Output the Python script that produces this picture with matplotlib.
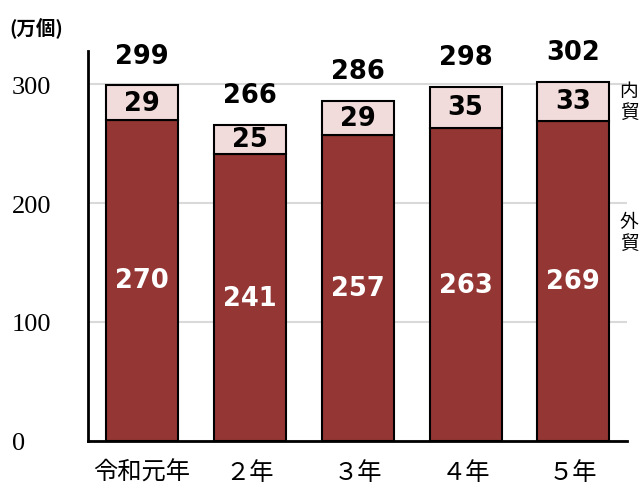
import matplotlib.pyplot as plt

plt.rcParams['font.family'] = ['Noto Sans CJK JP', 'DejaVu Sans']

years = ['令和元年', '２年', '３年', '４年', '５年']
gaibou = [270, 241, 257, 263, 269]   # 外貿
naibou = [29, 25, 29, 35, 33]        # 内貿
totals = [299, 266, 286, 298, 302]
yticks = [0, 100, 200, 300]

dark = '#943634'
light = '#f2dcdb'

fig = plt.figure(figsize=(6.44, 4.85), dpi=100)
ax = fig.add_axes([0.137, 0.089, 0.837, 0.804])

x = range(len(years))
ax.bar(x, gaibou, width=0.667, color=dark, edgecolor='black', linewidth=1.5, zorder=3)
ax.bar(x, naibou, width=0.667, bottom=gaibou, color=light, edgecolor='black', linewidth=1.5, zorder=3)

lab_font = dict(family=['DejaVu Sans'], fontweight='bold', fontsize=18.5)
for i in x:
    ax.text(i, gaibou[i] / 2, str(gaibou[i]), ha='center', va='center', color='white', zorder=4, **lab_font)
    ax.text(i, gaibou[i] + naibou[i] / 2, str(naibou[i]), ha='center', va='center', color='black', zorder=4, **lab_font)
    ax.annotate(str(totals[i]), (i, totals[i]), xytext=(0, 12), textcoords='offset points',
                ha='center', va='bottom', color='black', **lab_font)

ax.set_xlim(-0.5, 4.5)
ax.set_ylim(0, 328)
ax.set_yticks(yticks)
ax.set_yticklabels([str(v) for v in yticks], family=['Liberation Serif'], fontsize=19)
ax.set_xticks(list(x))
ax.set_xticklabels(years, fontsize=17.5)
ax.tick_params(length=0)
ax.tick_params(axis='x', pad=13)
ax.tick_params(axis='y', pad=55)
for lbl in ax.get_yticklabels():
    lbl.set_horizontalalignment('left')

ax.grid(axis='y', color='#d9d9d9', linewidth=1.5, zorder=0)
for s in ['top', 'right']:
    ax.spines[s].set_visible(False)
ax.spines['left'].set_linewidth(2)
ax.spines['bottom'].set_linewidth(2)

fig.text(0.014, 0.94, '(万個)', fontsize=14, fontweight='bold', ha='left', va='center')
fig.text(0.962, 0.79, '内\n貿', fontsize=13.5, ha='left', va='center', linespacing=1.0)
fig.text(0.962, 0.52, '外\n貿', fontsize=13.5, ha='left', va='center', linespacing=1.0)

fig.savefig('out.png', dpi=100)
